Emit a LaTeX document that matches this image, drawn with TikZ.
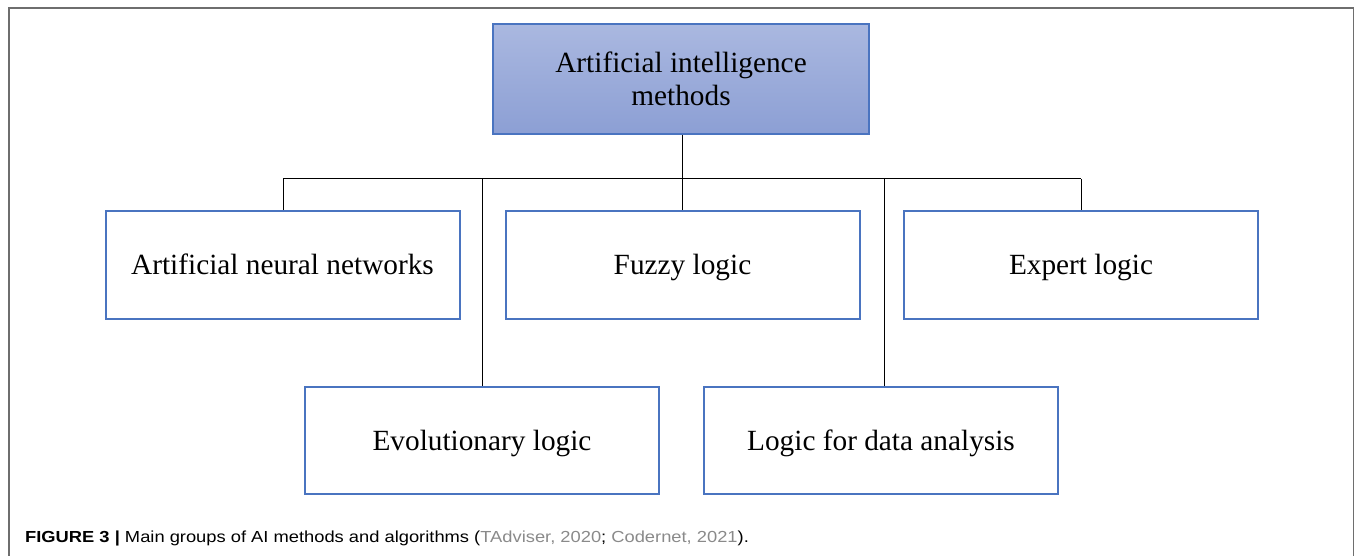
\documentclass[tikz,border=0pt]{standalone}
\usepackage{fontspec}
\setmainfont{Liberation Serif}
\newfontfamily\capfont{Liberation Sans}
\definecolor{boxblue}{HTML}{4A74C0}
\definecolor{topfill}{HTML}{AAB8E0}
\definecolor{botfill}{HTML}{8C9FD4}
\definecolor{framegray}{HTML}{6E6E6E}
\definecolor{citegray}{HTML}{8A8A8A}
\begin{document}
\begin{tikzpicture}[x=1pt,y=-1pt,
  catbox/.style={draw=boxblue,line width=2pt,fill=white,minimum width=354pt,minimum height=107pt,font=\fontsize{29.3}{33}\selectfont,inner sep=0pt,text height=25pt,text depth=6pt},
  rootbox/.style={draw=boxblue,line width=1.2pt,top color=topfill,bottom color=botfill,minimum width=376pt,minimum height=110pt,font=\fontsize{29.3}{33}\selectfont,align=center,inner sep=0pt},
  link/.style={draw=black,line width=1pt}]
\useasboundingbox (0,0) rectangle (1355,556);
\draw[framegray,line width=1.5pt] (9,556) -- (9,8) -- (1353.5,8) -- (1353.5,556);
\node[rootbox] (root) at (681,79) {Artificial intelligence\\methods};
\node[catbox] (ann) at (282.5,265) {Artificial neural networks};
\node[catbox] (fuzzy) at (682.5,265) {Fuzzy logic};
\node[catbox] (expert) at (1081,265) {Expert logic};
\node[catbox] (evo) at (482,440.5) {Evolutionary logic};
\node[catbox] (data) at (881,440.5) {Logic for data analysis};
\coordinate (hub) at (682,179);
\coordinate (hl) at (283,179);
\coordinate (hr) at (1081,179);
\coordinate (hevo) at (482,179);
\coordinate (hdata) at (884,179);
\path[link] (root.south -| hub) -- (hub);
\path[link] (hl) -- (hr);
\path[link] (hl) -- (hl |- ann.north);
\path[link] (hub) -- (hub |- fuzzy.north);
\path[link] (hr) -- (hr |- expert.north);
\path[link] (hevo) -- (hevo |- evo.north);
\path[link] (hdata) -- (hdata |- data.north);
\node[anchor=west,inner sep=0pt,font=\capfont\fontsize{16}{18}\selectfont] (cap) at (25,538) {\scalebox{1.145}[1]{\textbf{FIGURE 3 |} Main groups of AI methods and algorithms (\textcolor{citegray}{TAdviser, 2020}; \textcolor{citegray}{Codernet, 2021}).}};
\end{tikzpicture}
\end{document}
